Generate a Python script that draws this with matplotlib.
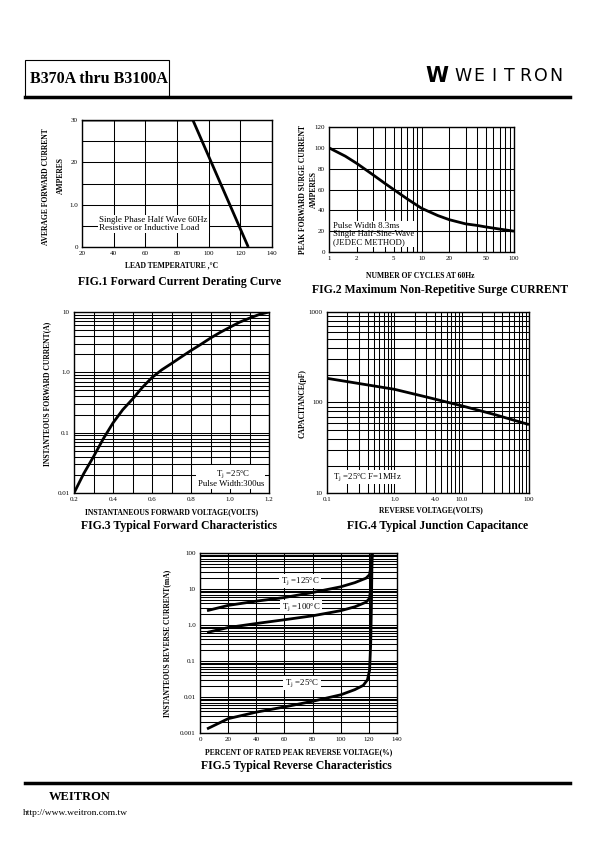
import matplotlib
matplotlib.use("Agg")
import matplotlib.pyplot as plt
from matplotlib.lines import Line2D
from matplotlib.patches import Rectangle
from matplotlib.ticker import FixedLocator, NullFormatter, LogLocator

W, H = 595, 842
plt.rcParams['font.family'] = ['Liberation Serif', 'DejaVu Serif']
plt.rcParams['mathtext.fontset'] = 'stix'

# FIG.1 derating curve
derate_temp = [20, 90, 125]
derate_amps = [30, 30, 0]

# FIG.2 surge current
surge_cycles = [1, 1.5, 2, 3, 4, 5, 7, 10, 15, 20, 30, 40, 50, 70, 100]
surge_amps = [100, 92, 85, 74, 66, 60, 51, 42, 35, 31, 27, 25.5, 24, 22, 20]

# FIG.3 forward characteristics
fwd_volts = [0.2, 0.25, 0.3, 0.35, 0.4, 0.45, 0.5, 0.55, 0.6, 0.65, 0.7, 0.75,
             0.8, 0.85, 0.9, 0.95, 1.0, 1.05, 1.1, 1.15, 1.2]
fwd_amps = [0.01, 0.021, 0.04, 0.079, 0.145, 0.24, 0.36, 0.56, 0.82, 1.1, 1.4, 1.8,
            2.3, 2.9, 3.7, 4.6, 5.6, 6.8, 7.9, 9.1, 10]

# FIG.4 junction capacitance
cap_volts = [0.1, 0.3, 1, 3, 10, 30, 100]
cap_pf = [185, 162, 140, 115, 92, 74, 57]

# FIG.5 reverse characteristics
rev_pct_125 = [5, 20, 40, 60, 80, 100, 110, 118, 120.5, 121.5, 122.3]
rev_ma_125 = [2.5, 3.5, 4.6, 5.8, 8.0, 11.5, 15, 20, 25, 45, 100]
rev_pct_100 = [5, 20, 40, 60, 80, 100, 110, 118, 120.5, 121.5, 122.3]
rev_ma_100 = [0.62, 0.85, 1.1, 1.4, 1.8, 2.5, 3.2, 4.3, 5.5, 12, 100]
rev_pct_25 = [5, 20, 40, 60, 80, 100, 110, 116, 119, 120.5, 121.3, 121.8, 122.3]
rev_ma_25 = [0.0013, 0.0025, 0.0038, 0.0053, 0.0076, 0.0115, 0.016, 0.021,
             0.03, 0.055, 0.3, 3, 100]

fig = plt.figure(figsize=(W / 100, H / 100), dpi=100)


def px_axes(l, t, r, b):
    ax = fig.add_axes([l / W, 1 - b / H, (r - l) / W, (b - t) / H])
    for s in ax.spines.values():
        s.set_linewidth(1.0)
    ax.tick_params(which='both', length=0, labelsize=5, pad=3)
    return ax


def ftext(x, y, s, **kw):
    fig.text(x / W, 1 - y / H, s, **kw)


def atext(ax, x, y, s, **kw):
    ax.text(x / W, 1 - y / H, s, transform=fig.transFigure, **kw)


grid_kw = dict(color='black', linewidth=0.75)
curve_kw = dict(color='black', linewidth=2.0, solid_capstyle='butt', solid_joinstyle='round')
axlab = dict(fontsize=5.5, fontweight='bold', ha='center', va='center')
title_kw = dict(fontsize=8.5, fontweight='bold', ha='center', va='center')
white_box = dict(facecolor='white', edgecolor='none', pad=1.0)

# header and footer
fig.add_artist(Rectangle((25 / W, 1 - 97 / H), 144 / W, 37 / H, transform=fig.transFigure,
                         fill=False, edgecolor='black', linewidth=0.8))
fig.add_artist(Line2D([25 / W, 570 / W], [1 - 97 / H] * 2, color='black', linewidth=2.5))
ftext(30, 79, "B370A thru B3100A", fontsize=11.5, fontweight='bold', va='center')
ftext(437, 76, "W", family='DejaVu Sans', fontsize=15, fontweight='heavy', ha='center', va='center')
for i, ch in enumerate("WEITRON"):
    ftext(463 + i * 15.5, 76, ch, family='DejaVu Sans', fontsize=12.5, ha='center', va='center')
fig.add_artist(Line2D([25 / W, 570 / W], [1 - 783 / H] * 2, color='black', linewidth=2.5))
ftext(80, 797, "WEITRON", fontsize=9, fontweight='bold', ha='center', va='center')
ftext(23, 813, "http://www.weitron.com.tw", fontsize=6.8, va='center')

# FIG.1
ax1 = px_axes(82, 120, 272, 247)
ax1.plot(derate_temp, derate_amps, **curve_kw, zorder=5)
ax1.set_xlim(20, 140)
ax1.set_ylim(0, 30)
ax1.xaxis.set_major_locator(FixedLocator(range(20, 141, 20)))
ax1.yaxis.set_major_locator(FixedLocator(range(0, 31, 5)))
ax1.set_yticklabels(['0', '', '1.0', '', '20', '', '30'])
ax1.grid(True, **grid_kw)
atext(ax1, 99, 224, "Single Phase Half Wave 60Hz\nResistive or Inductive Load",
      fontsize=6.5, va='center', linespacing=0.9, bbox=white_box, zorder=4)
ftext(46, 187, "AVERAGE FORWARD CURRENT", rotation=90, **axlab)
ftext(61, 176, "AMPERES", rotation=90, **axlab)
ftext(172, 265, "LEAD TEMPERATURE ,°C", **axlab)
ftext(180, 282, "FIG.1 Forward Current Derating Curve", **title_kw)

# FIG.2
ax2 = px_axes(329, 127, 514, 252)
ax2.plot(surge_cycles, surge_amps, **curve_kw, zorder=5)
ax2.set_xscale('log')
ax2.set_xlim(1, 100)
ax2.set_ylim(0, 120)
ax2.xaxis.set_major_locator(FixedLocator([1, 2, 5, 10, 20, 50, 100]))
ax2.xaxis.set_minor_locator(FixedLocator([3, 4, 6, 7, 8, 9, 30, 40, 60, 70, 80, 90]))
ax2.xaxis.set_minor_formatter(NullFormatter())
ax2.set_xticklabels(['1', '2', '5', '10', '20', '50', '100'])
ax2.yaxis.set_major_locator(FixedLocator(range(0, 121, 20)))
ax2.grid(True, which='both', **grid_kw)
atext(ax2, 333, 234, "Pulse Width 8.3ms\nSingle Half-Sine-Wave\n(JEDEC METHOD)",
      fontsize=6.3, va='center', linespacing=0.95, bbox=white_box, zorder=3)
ax2.axhline(20, zorder=4, **grid_kw)
ftext(303, 190, "PEAK FORWARD SURGE CURRENT", rotation=90, **axlab)
ftext(314, 190, "AMPERES", rotation=90, **axlab)
ftext(420, 276, "NUMBER OF CYCLES AT 60Hz", **axlab)
ftext(440, 290, "FIG.2 Maximum Non-Repetitive Surge CURRENT", **title_kw)

# FIG.3
ax3 = px_axes(74, 312, 269, 493)
ax3.plot(fwd_volts, fwd_amps, **curve_kw, zorder=5)
ax3.set_yscale('log')
ax3.set_xlim(0.2, 1.2)
ax3.set_ylim(0.01, 10)
ax3.xaxis.set_major_locator(FixedLocator([0.2 + 0.1 * i for i in range(11)]))
ax3.set_xticklabels(['0.2', '', '0.4', '', '0.6', '', '0.8', '', '1.0', '', '1.2'])
ax3.yaxis.set_major_locator(FixedLocator([0.01, 0.1, 1, 10]))
ax3.yaxis.set_minor_locator(LogLocator(base=10, subs=range(2, 10)))
ax3.yaxis.set_minor_formatter(NullFormatter())
ax3.set_yticklabels(['0.01', '0.1', '1.0', '10'])
ax3.grid(True, which='both', **grid_kw)
atext(ax3, 264, 478, "T$_\\mathrm{j}$ =25°C       \nPulse Width:300us",
      fontsize=6.3, ha='right', va='center', linespacing=1.0, bbox=white_box, zorder=4)
ftext(47, 394, "INSTANTEOUS FORWARD CURRENT(A)", rotation=90, **axlab)
ftext(172, 512, "INSTANTANEOUS FORWARD VOLTAGE(VOLTS)", **axlab)
ftext(179, 526, "FIG.3 Typical Forward Characteristics", **title_kw)

# FIG.4
ax4 = px_axes(327, 312, 529, 493)
ax4.plot(cap_volts, cap_pf, **curve_kw, zorder=5)
ax4.set_xscale('log')
ax4.set_yscale('log')
ax4.set_xlim(0.1, 100)
ax4.set_ylim(10, 1000)
ax4.xaxis.set_major_locator(FixedLocator([0.1, 1, 4, 10, 100]))
ax4.set_xticklabels(['0.1', '1.0', '4.0', '10.0', '100'])
ax4.xaxis.set_minor_locator(LogLocator(base=10, subs=range(2, 10)))
ax4.xaxis.set_minor_formatter(NullFormatter())
ax4.yaxis.set_major_locator(FixedLocator([10, 100, 1000]))
ax4.set_yticklabels(['10', '100', '1000'])
ax4.yaxis.set_minor_locator(LogLocator(base=10, subs=range(2, 10)))
ax4.yaxis.set_minor_formatter(NullFormatter())
ax4.grid(True, which='both', **grid_kw)
atext(ax4, 333, 477, "T$_\\mathrm{j}$ =25°C F=1MHz", fontsize=6.3, va='center',
      bbox=white_box, zorder=4)
ftext(303, 404, "CAPACITANCE(pF)", rotation=90, **axlab)
ftext(431, 510, "REVERSE VOLTAGE(VOLTS)", **axlab)
ftext(438, 526, "FIG.4 Typical Junction Capacitance", **title_kw)

# FIG.5
ax5 = px_axes(200, 553, 397, 733)
ax5.plot(rev_pct_125, rev_ma_125, **curve_kw, zorder=5)
ax5.plot(rev_pct_100, rev_ma_100, **curve_kw, zorder=5)
ax5.plot(rev_pct_25, rev_ma_25, **curve_kw, zorder=5)
ax5.set_yscale('log')
ax5.set_xlim(0, 140)
ax5.set_ylim(0.001, 100)
ax5.xaxis.set_major_locator(FixedLocator(range(0, 141, 20)))
ax5.yaxis.set_major_locator(FixedLocator([0.001, 0.01, 0.1, 1, 10, 100]))
ax5.set_yticklabels(['0.001', '0.01', '0.1', '1.0', '10', '100'])
ax5.yaxis.set_minor_locator(LogLocator(base=10, subs=range(2, 10)))
ax5.yaxis.set_minor_formatter(NullFormatter())
ax5.grid(True, which='both', **grid_kw)
atext(ax5, 300, 581, "T$_\\mathrm{j}$ =125°C", fontsize=6.3, ha='center', va='center',
      bbox=white_box, zorder=4)
atext(ax5, 301, 607, "T$_\\mathrm{j}$ =100°C", fontsize=6.3, ha='center', va='center',
      bbox=white_box, zorder=4)
atext(ax5, 302, 683, "T$_\\mathrm{j}$ =25°C", fontsize=6.3, ha='center', va='center',
      bbox=white_box, zorder=4)
ftext(167, 643, "INSTANTEOUS REVERSE CURRENT(mA)", rotation=90, **axlab)
ftext(299, 752, "PERCENT OF RATED PEAK REVERSE VOLTAGE(%)", **axlab)
ftext(296, 766, "FIG.5 Typical Reverse Characteristics", **title_kw)

fig.savefig("out.png", dpi=100)
